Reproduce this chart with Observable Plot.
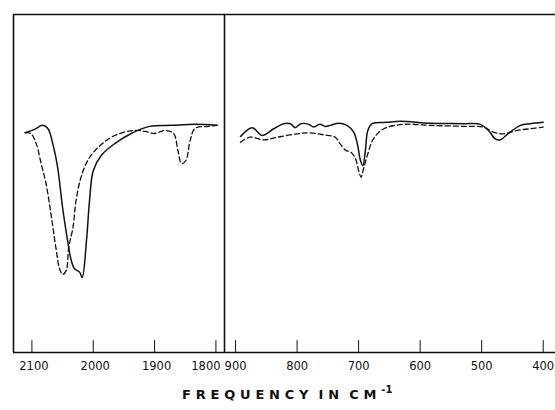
<!DOCTYPE html>
<html>
<head>
<meta charset="utf-8">
<script src="https://cdn.jsdelivr.net/npm/d3@7"></script>
<script src="https://cdn.jsdelivr.net/npm/@observablehq/plot@0.6"></script>
<style>
  html, body { margin: 0; padding: 0; background: #fff; }
  #wrap { position: relative; width: 555px; height: 410px; overflow: hidden; background: #fff; }
  #left, #right { position: absolute; top: 0; }
  #left { left: 0; }
  #right { left: 223px; }
  #title {
    position: absolute; left: 182px; top: 387px;
    font-family: "DejaVu Sans", sans-serif; font-weight: bold; font-size: 13px;
    letter-spacing: 4.8px; word-spacing: -4px; color: #111; white-space: nowrap; line-height: 16px;
  }
  #title sup { font-size: 10px; letter-spacing: 0; vertical-align: 6px; line-height: 0; }
</style>
</head>
<body>
<div id="wrap">
  <div id="left"></div>
  <div id="right"></div>
  <div id="title">FREQUENCY IN CM<sup>-1</sup></div>
</div>
<script>
// ---- Data (transmittance %) ----
const leftSolidFreq = [2111, 2096, 2083, 2074, 2066, 2058, 2050, 2041, 2037, 2031, 2022, 2018, 2011, 2006, 2000, 1987, 1965, 1938, 1908, 1872, 1834, 1798];
const leftSolidT    = [65.0, 66.0, 67.2, 66.3, 61.8, 54.7, 42.9, 32.2, 28.1, 24.9, 23.7, 22.2, 33.1, 45.0, 53.8, 58.3, 61.8, 64.8, 66.9, 67.2, 67.5, 67.2];

const leftDashFreq = [2111, 2102, 2093, 2085, 2077, 2069, 2061, 2055, 2050, 2044, 2040, 2033, 2028, 2020, 2009, 1992, 1965, 1932, 1915, 1900, 1883, 1869, 1862, 1856, 1849, 1842, 1834, 1812, 1798];
const leftDashT    = [65.0, 64.8, 61.8, 55.9, 50.0, 41.1, 31.1, 24.9, 23.1, 24.3, 31.1, 37.0, 45.0, 51.8, 56.8, 60.7, 64.2, 65.7, 65.4, 64.8, 65.7, 64.8, 59.8, 55.9, 56.8, 62.7, 66.3, 66.9, 67.2];

const rightSolidFreq = [892, 873, 857, 838, 822, 811, 803, 794, 781, 773, 763, 754, 746, 732, 719, 708, 702, 697, 693, 689, 685, 678, 654, 632, 583, 529, 502, 489, 478, 470, 454, 437, 421, 400];
const rightSolidT    = [63.9, 66.5, 64.2, 66.2, 67.7, 67.7, 66.5, 67.7, 67.5, 66.7, 67.5, 66.9, 67.2, 67.8, 67.2, 65.2, 61.7, 56.8, 55.3, 59.8, 65.7, 67.7, 68.1, 68.4, 67.8, 67.7, 67.5, 65.7, 63.2, 62.9, 65.2, 67.2, 67.7, 68.1];

const rightDashFreq = [892, 876, 854, 832, 800, 781, 757, 738, 730, 721, 713, 705, 700, 696, 692, 685, 676, 659, 627, 583, 529, 497, 481, 464, 443, 421, 400];
const rightDashT    = [62.2, 63.7, 62.9, 63.7, 64.7, 65.0, 64.4, 63.7, 61.7, 59.8, 59.3, 57.3, 53.8, 51.9, 54.4, 58.8, 63.2, 66.2, 67.5, 67.2, 66.9, 66.7, 65.2, 64.7, 65.7, 66.2, 66.7];

const leftTicks = [2100, 2000, 1900, 1800];
const rightTicks = [900, 800, 700, 600, 500, 400];
const leftDomain = [2130, 1786];
const rightDomain = [918, 380];

const zip = (f, t) => f.map((x, i) => ({x, y: t[i]}));

const INK = "#111";
const tickFont = {fontFamily: "DejaVu Sans, sans-serif", fontSize: 11.5};
const axisOpts = {tickSize: 0, tickPadding: 9, anchor: "bottom", label: null, tickFormat: d => String(d), ...tickFont};

const common = {height: 375, marginTop: 14, marginBottom: 23,
  y: {domain: [0, 100], axis: null},
  style: {background: "transparent", color: INK, overflow: "visible"}};

const left = Plot.plot({
  ...common, width: 224, marginLeft: 13, marginRight: 0,
  x: {domain: leftDomain, axis: null, label: null},
  marks: [
    Plot.ruleX([leftDomain[0]], {stroke: INK, strokeWidth: 1.6}),
    Plot.ruleY([0, 100], {stroke: INK, strokeWidth: 1.6}),
    Plot.ruleX(leftTicks, {x: d => d, y1: 0, y2: 3.5, stroke: INK, strokeWidth: 1}),
    Plot.axisX({ticks: leftTicks.slice(0, 3), ...axisOpts, dx: 2}),
    Plot.axisX({ticks: leftTicks.slice(3), ...axisOpts, dx: -10}),
    Plot.line(zip(leftSolidFreq, leftSolidT), {x: "x", y: "y", stroke: INK, strokeWidth: 1.5, curve: "catmull-rom"}),
    Plot.line(zip(leftDashFreq, leftDashT), {x: "x", y: "y", stroke: INK, strokeWidth: 1.3, strokeDasharray: "5,3", curve: "catmull-rom"})
  ]
});

const right = Plot.plot({
  ...common, width: 332, marginLeft: 1, marginRight: 0,
  x: {domain: rightDomain, axis: null, label: null},
  marks: [
    Plot.ruleX([rightDomain[0]], {stroke: INK, strokeWidth: 1.6}),
    Plot.ruleY([0, 100], {stroke: INK, strokeWidth: 1.6}),
    Plot.ruleX(rightTicks, {x: d => d, y1: 0, y2: 3.5, stroke: INK, strokeWidth: 1}),
    Plot.axisX({ticks: rightTicks, ...axisOpts}),
    Plot.line(zip(rightSolidFreq, rightSolidT), {x: "x", y: "y", stroke: INK, strokeWidth: 1.5, curve: "catmull-rom"}),
    Plot.line(zip(rightDashFreq, rightDashT), {x: "x", y: "y", stroke: INK, strokeWidth: 1.3, strokeDasharray: "5,3", curve: "catmull-rom"})
  ]
});

document.getElementById("left").appendChild(left);
document.getElementById("right").appendChild(right);
</script>
</body>
</html>
